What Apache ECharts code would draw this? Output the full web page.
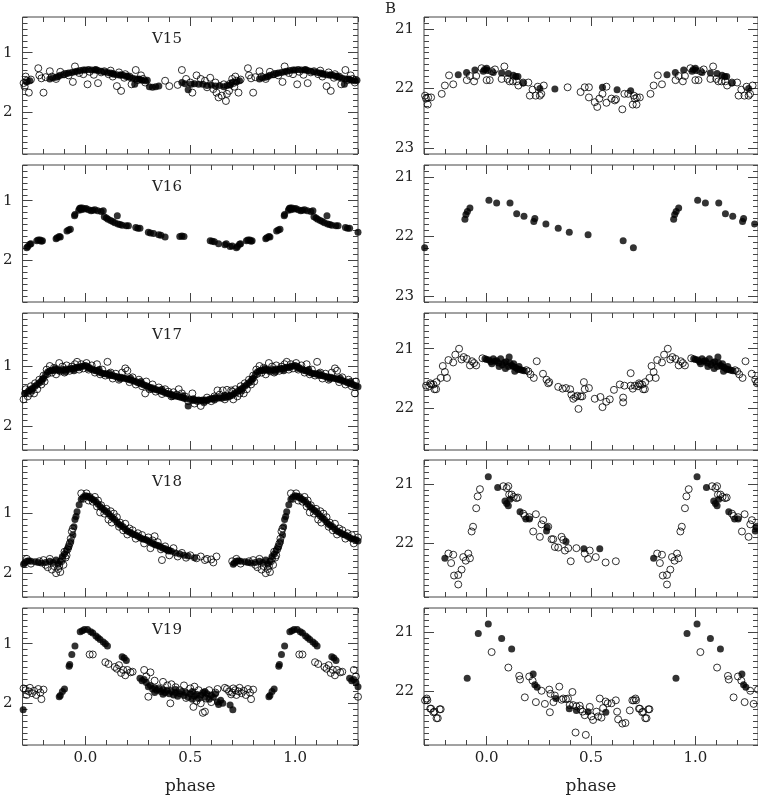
<!DOCTYPE html>
<html>
<head>
<meta charset="utf-8">
<script src="https://cdn.jsdelivr.net/npm/echarts@6/dist/echarts.min.js"></script>
<style>
  html, body { margin: 0; padding: 0; background: #fff; }
  #main { width: 758px; height: 796px; }
</style>
</head>
<body>
<div id="main"></div>
<script>
// light curves, phase in [0,1) -> plotted from -0.3 to 1.3 (folded)
const names = ['V15', 'V16', 'V17', 'V18', 'V19'];
const phaseTicks = [0, 0.5, 1.0];
const leftMagTicks = [1, 2];
const rightMagTicks = [21, 22, 23];

// left column (V-like band), filled and open points
const v15Fill = [[0.83,1.44],[0.845,1.42],[0.86,1.41],[0.87,1.40],[0.88,1.38],[0.895,1.37],[0.91,1.35],[0.92,1.34],[0.935,1.33],[0.95,1.32],[0.96,1.31],[0.975,1.30],[0.99,1.29],[0.0,1.29],[0.015,1.28],[0.03,1.29],[0.045,1.29],[0.05,1.28],[0.06,1.30],[0.075,1.31],[0.09,1.32],[0.105,1.33],[0.12,1.34],[0.13,1.35],[0.135,1.36],[0.15,1.37],[0.165,1.38],[0.17,1.37],[0.18,1.38],[0.195,1.40],[0.2,1.39],[0.21,1.41],[0.225,1.43],[0.235,1.53],[0.24,1.44],[0.255,1.44],[0.26,1.45],[0.27,1.46],[0.285,1.47],[0.295,1.46],[0.305,1.57],[0.32,1.58],[0.335,1.57],[0.35,1.56],[0.46,1.50],[0.475,1.52],[0.49,1.62],[0.505,1.53],[0.52,1.52],[0.54,1.53],[0.56,1.53],[0.58,1.55],[0.60,1.54],[0.62,1.56],[0.64,1.55],[0.66,1.57],[0.675,1.55],[0.69,1.54],[0.70,1.50],[0.72,1.49],[0.735,1.47]];
const v15Open = [[0.70,1.44],[0.705,1.51],[0.71,1.57],[0.715,1.40],[0.72,1.47],[0.73,1.67],[0.74,1.45],[0.775,1.26],[0.78,1.38],[0.79,1.43],[0.80,1.67],[0.81,1.41],[0.83,1.31],[0.84,1.40],[0.86,1.44],[0.88,1.32],[0.90,1.36],[0.92,1.38],[0.94,1.49],[0.95,1.23],[0.97,1.34],[0.99,1.36],[0.01,1.53],[0.02,1.32],[0.04,1.37],[0.06,1.51],[0.075,1.33],[0.09,1.31],[0.11,1.36],[0.12,1.30],[0.13,1.40],[0.15,1.56],[0.16,1.33],[0.17,1.64],[0.185,1.42],[0.19,1.36],[0.21,1.40],[0.22,1.53],[0.24,1.29],[0.25,1.46],[0.265,1.38],[0.275,1.44],[0.285,1.50],[0.38,1.47],[0.40,1.56],[0.44,1.54],[0.46,1.29],[0.48,1.44],[0.50,1.50],[0.51,1.67],[0.53,1.38],[0.55,1.44],[0.57,1.47],[0.58,1.58],[0.595,1.42],[0.61,1.61],[0.62,1.50],[0.625,1.67],[0.635,1.75],[0.65,1.72],[0.66,1.53],[0.67,1.81],[0.675,1.69],[0.685,1.64],[0.69,1.52]];
const v16Fill = [[0.72,1.79],[0.725,1.77],[0.735,1.73],[0.74,1.72],[0.768,1.67],[0.775,1.66],[0.784,1.66],[0.79,1.68],[0.795,1.67],[0.86,1.64],[0.865,1.62],[0.875,1.60],[0.88,1.61],[0.912,1.51],[0.92,1.49],[0.928,1.48],[0.948,1.25],[0.95,1.23],[0.968,1.16],[0.972,1.13],[0.976,1.12],[0.98,1.15],[0.985,1.12],[0.995,1.14],[0.003,1.13],[0.015,1.15],[0.027,1.17],[0.035,1.16],[0.045,1.15],[0.058,1.17],[0.075,1.18],[0.085,1.17],[0.09,1.27],[0.1,1.29],[0.108,1.31],[0.12,1.33],[0.13,1.35],[0.14,1.37],[0.152,1.25],[0.155,1.39],[0.165,1.40],[0.175,1.41],[0.195,1.42],[0.205,1.42],[0.24,1.45],[0.25,1.46],[0.26,1.46],[0.30,1.53],[0.31,1.54],[0.325,1.55],[0.35,1.57],[0.36,1.58],[0.38,1.61],[0.45,1.60],[0.46,1.59],[0.47,1.60],[0.595,1.67],[0.605,1.68],[0.615,1.69],[0.635,1.72],[0.665,1.74],[0.672,1.72],[0.69,1.77],[0.70,1.76]];
const v16Open = [];
const v17Fill = [[0.70,1.48],[0.71,1.45],[0.72,1.44],[0.73,1.40],[0.74,1.38],[0.75,1.36],[0.76,1.33],[0.77,1.30],[0.78,1.27],[0.79,1.24],[0.80,1.20],[0.81,1.14],[0.82,1.09],[0.83,1.07],[0.84,1.06],[0.85,1.07],[0.86,1.05],[0.87,1.06],[0.88,1.07],[0.89,1.05],[0.90,1.06],[0.91,1.04],[0.92,1.05],[0.93,1.03],[0.94,1.04],[0.95,1.02],[0.96,1.01],[0.97,1.02],[0.98,1.00],[0.99,0.99],[0.0,0.98],[0.01,1.00],[0.02,1.02],[0.03,1.04],[0.04,1.06],[0.05,1.07],[0.06,1.08],[0.07,1.10],[0.08,1.11],[0.09,1.12],[0.10,1.12],[0.11,1.14],[0.12,1.15],[0.13,1.15],[0.14,1.16],[0.15,1.17],[0.16,1.18],[0.17,1.18],[0.18,1.19],[0.19,1.20],[0.20,1.21],[0.21,1.22],[0.22,1.23],[0.23,1.24],[0.24,1.25],[0.25,1.27],[0.26,1.28],[0.27,1.29],[0.28,1.31],[0.29,1.32],[0.30,1.34],[0.31,1.35],[0.32,1.36],[0.33,1.38],[0.34,1.39],[0.35,1.40],[0.36,1.41],[0.37,1.42],[0.38,1.44],[0.39,1.45],[0.40,1.46],[0.41,1.47],[0.42,1.48],[0.43,1.49],[0.44,1.50],[0.45,1.51],[0.46,1.52],[0.47,1.53],[0.48,1.54],[0.49,1.66],[0.50,1.55],[0.51,1.57],[0.52,1.56],[0.53,1.57],[0.54,1.56],[0.55,1.57],[0.56,1.56],[0.57,1.56],[0.58,1.57],[0.59,1.55],[0.60,1.54],[0.61,1.53],[0.62,1.52],[0.63,1.53],[0.64,1.52],[0.65,1.53],[0.66,1.51],[0.67,1.52],[0.68,1.50],[0.69,1.49],[0.855,1.03],[0.905,1.09],[0.945,1.07],[0.015,1.03],[0.065,1.05],[0.115,1.11],[0.165,1.21],[0.215,1.19],[0.265,1.25],[0.315,1.38],[0.365,1.38],[0.415,1.50],[0.465,1.49],[0.515,1.54],[0.565,1.59],[0.615,1.56],[0.665,1.48],[0.745,1.41],[0.795,1.21]];
const v17Open = [[0.70,1.42],[0.705,1.55],[0.715,1.38],[0.725,1.50],[0.735,1.45],[0.74,1.33],[0.755,1.45],[0.76,1.28],[0.77,1.38],[0.78,1.22],[0.79,1.30],[0.80,1.15],[0.805,1.25],[0.815,1.05],[0.82,1.12],[0.83,0.99],[0.84,1.10],[0.85,1.02],[0.86,1.13],[0.875,0.94],[0.88,1.08],[0.89,1.00],[0.90,1.10],[0.91,0.98],[0.925,1.07],[0.935,1.00],[0.95,0.96],[0.96,0.92],[0.97,1.05],[0.98,0.96],[0.99,1.03],[0.005,0.94],[0.015,1.05],[0.03,0.98],[0.045,1.10],[0.055,0.96],[0.07,1.13],[0.08,1.05],[0.095,1.15],[0.105,0.92],[0.12,1.10],[0.13,1.20],[0.145,1.12],[0.16,1.22],[0.175,1.10],[0.19,1.03],[0.2,1.07],[0.21,1.26],[0.225,1.18],[0.24,1.30],[0.255,1.22],[0.27,1.33],[0.285,1.45],[0.29,1.25],[0.305,1.38],[0.32,1.30],[0.335,1.42],[0.35,1.35],[0.365,1.46],[0.38,1.38],[0.395,1.42],[0.41,1.50],[0.42,1.43],[0.435,1.47],[0.445,1.38],[0.46,1.45],[0.475,1.50],[0.49,1.58],[0.51,1.45],[0.52,1.62],[0.535,1.58],[0.55,1.66],[0.565,1.60],[0.58,1.52],[0.60,1.58],[0.615,1.50],[0.63,1.40],[0.64,1.47],[0.655,1.40],[0.665,1.55],[0.675,1.39],[0.685,1.50],[0.695,1.40]];
const v18Fill = [[0.705,1.85],[0.71,1.83],[0.72,1.80],[0.73,1.79],[0.74,1.80],[0.76,1.81],[0.775,1.82],[0.79,1.83],[0.81,1.82],[0.83,1.80],[0.845,1.82],[0.86,1.78],[0.87,1.85],[0.88,1.80],[0.89,1.72],[0.90,1.68],[0.91,1.62],[0.92,1.56],[0.93,1.47],[0.94,1.36],[0.945,1.22],[0.95,1.10],[0.955,1.05],[0.96,0.97],[0.97,0.85],[0.98,0.76],[0.99,0.72],[0.0,0.70],[0.01,0.71],[0.02,0.73],[0.03,0.75],[0.04,0.77],[0.05,0.80],[0.06,0.84],[0.07,0.88],[0.08,0.91],[0.09,0.94],[0.10,0.97],[0.11,1.00],[0.12,1.04],[0.13,1.07],[0.14,1.10],[0.15,1.14],[0.16,1.18],[0.17,1.20],[0.18,1.22],[0.19,1.26],[0.20,1.29],[0.21,1.31],[0.22,1.33],[0.23,1.35],[0.24,1.36],[0.25,1.38],[0.26,1.40],[0.27,1.42],[0.28,1.43],[0.29,1.44],[0.30,1.46],[0.31,1.48],[0.32,1.50],[0.33,1.52],[0.34,1.53],[0.35,1.54],[0.36,1.56],[0.37,1.58],[0.38,1.59],[0.39,1.61],[0.40,1.62],[0.41,1.63],[0.43,1.66],[0.45,1.68],[0.47,1.70],[0.49,1.71],[0.52,1.74]];
const v18Open = [[0.70,1.80],[0.72,1.76],[0.74,1.84],[0.78,1.80],[0.80,1.78],[0.81,1.86],[0.82,1.90],[0.83,1.76],[0.84,1.94],[0.85,1.88],[0.86,2.00],[0.87,1.93],[0.875,1.88],[0.88,1.98],[0.885,1.80],[0.89,1.76],[0.895,1.86],[0.90,1.64],[0.905,1.74],[0.91,1.70],[0.915,1.60],[0.92,1.55],[0.925,1.50],[0.93,1.42],[0.935,1.30],[0.94,1.25],[0.98,0.66],[0.99,0.75],[0.005,0.66],[0.015,0.78],[0.02,0.72],[0.035,0.80],[0.045,0.72],[0.055,0.88],[0.06,0.78],[0.07,0.98],[0.075,0.86],[0.09,1.00],[0.1,0.92],[0.11,1.10],[0.12,0.96],[0.125,1.15],[0.135,1.00],[0.15,1.06],[0.16,1.22],[0.165,1.15],[0.18,1.28],[0.19,1.17],[0.2,1.35],[0.21,1.25],[0.225,1.28],[0.24,1.42],[0.25,1.33],[0.27,1.36],[0.28,1.50],[0.30,1.40],[0.31,1.58],[0.32,1.45],[0.33,1.38],[0.345,1.48],[0.36,1.60],[0.365,1.78],[0.38,1.55],[0.395,1.62],[0.40,1.70],[0.42,1.58],[0.44,1.72],[0.46,1.66],[0.48,1.74],[0.50,1.70],[0.53,1.75],[0.55,1.72],[0.57,1.78],[0.58,1.76],[0.60,1.77],[0.61,1.82],[0.625,1.72]];
const v19Fill = [[0.703,2.11],[0.875,1.89],[0.88,1.87],[0.89,1.80],[0.90,1.76],[0.922,1.38],[0.925,1.35],[0.935,1.18],[0.95,1.04],[0.975,0.80],[0.985,0.78],[0.995,0.76],[0.01,0.76],[0.025,0.80],[0.035,0.82],[0.05,0.87],[0.06,0.90],[0.07,0.93],[0.085,0.97],[0.095,1.00],[0.105,1.04],[0.175,1.22],[0.185,1.24],[0.195,1.28],[0.26,1.58],[0.27,1.62],[0.28,1.60],[0.29,1.65],[0.30,1.72],[0.31,1.70],[0.32,1.76],[0.33,1.74],[0.34,1.78],[0.35,1.76],[0.36,1.80],[0.37,1.77],[0.38,1.82],[0.39,1.78],[0.40,1.84],[0.41,1.80],[0.42,1.86],[0.43,1.82],[0.44,1.88],[0.45,1.84],[0.46,1.80],[0.47,1.87],[0.48,1.82],[0.49,1.90],[0.50,1.84],[0.51,1.80],[0.52,1.88],[0.53,1.85],[0.54,1.92],[0.55,1.86],[0.56,1.82],[0.57,1.90],[0.58,1.84],[0.59,1.93],[0.60,1.86],[0.61,1.90],[0.62,1.84],[0.63,1.98],[0.635,2.02],[0.645,1.95],[0.655,2.00],[0.69,2.03],[0.33,1.82],[0.37,1.85],[0.43,1.77],[0.51,1.93],[0.57,1.80]];
const v19Open = [[0.70,1.82],[0.705,1.75],[0.715,1.78],[0.72,1.86],[0.73,1.80],[0.735,1.74],[0.745,1.83],[0.755,1.79],[0.765,1.86],[0.775,1.76],[0.785,1.82],[0.79,1.93],[0.80,1.77],[0.02,1.18],[0.035,1.18],[0.095,1.31],[0.11,1.34],[0.14,1.39],[0.15,1.42],[0.16,1.36],[0.17,1.49],[0.18,1.44],[0.19,1.53],[0.20,1.44],[0.215,1.48],[0.225,1.47],[0.28,1.44],[0.29,1.55],[0.30,1.89],[0.31,1.48],[0.33,1.62],[0.35,1.75],[0.37,1.64],[0.39,1.70],[0.405,2.00],[0.41,1.68],[0.43,1.73],[0.45,1.78],[0.47,1.70],[0.48,1.91],[0.50,1.75],[0.515,2.06],[0.52,1.72],[0.53,1.96],[0.54,1.78],[0.55,2.00],[0.56,2.16],[0.57,2.14],[0.575,1.92],[0.59,1.78],[0.60,1.98],[0.62,1.82],[0.63,1.76],[0.665,1.74],[0.675,1.76],[0.685,1.80],[0.695,1.85]];

// right column (B magnitudes)
const b15Fill = [[0.864,21.77],[0.904,21.73],[0.944,21.69],[0.984,21.71],[0.99,21.68],[0.0,21.66],[0.005,21.70],[0.032,21.73],[0.072,21.74],[0.104,21.75],[0.128,21.78],[0.14,21.80],[0.15,21.80],[0.175,21.91],[0.255,22.00],[0.327,22.01],[0.555,21.98],[0.625,22.02],[0.69,22.04]];
const b15Open = [[0.70,22.27],[0.705,22.12],[0.72,22.15],[0.785,22.09],[0.80,21.95],[0.82,21.78],[0.84,21.93],[0.905,21.86],[0.92,21.79],[0.94,21.88],[0.95,21.79],[0.976,21.66],[0.0,21.86],[0.015,21.86],[0.024,21.71],[0.04,21.68],[0.072,21.84],[0.085,21.63],[0.10,21.84],[0.11,21.88],[0.125,21.88],[0.144,21.88],[0.152,21.95],[0.175,21.90],[0.2,21.90],[0.207,22.12],[0.22,22.02],[0.235,22.12],[0.245,21.97],[0.255,22.12],[0.262,22.09],[0.274,21.95],[0.388,21.98],[0.45,22.06],[0.47,21.98],[0.49,21.98],[0.49,22.15],[0.518,22.23],[0.53,22.31],[0.54,22.17],[0.555,22.09],[0.574,21.97],[0.574,22.24],[0.598,22.17],[0.614,22.20],[0.62,22.18],[0.65,22.35],[0.66,22.09],[0.678,22.09],[0.71,22.17],[0.718,22.27],[0.734,22.15]];
const b16Fill = [[0.703,22.19],[0.896,21.71],[0.901,21.63],[0.908,21.58],[0.92,21.52],[0.011,21.39],[0.048,21.44],[0.112,21.44],[0.144,21.62],[0.179,21.66],[0.226,21.75],[0.231,21.70],[0.284,21.79],[0.343,21.86],[0.396,21.93],[0.486,21.97],[0.654,22.07]];
const b16Open = [];
const b17Fill = [[0.992,21.17],[0.0,21.18],[0.012,21.19],[0.02,21.22],[0.025,21.25],[0.032,21.17],[0.04,21.21],[0.048,21.20],[0.056,21.24],[0.06,21.30],[0.067,21.17],[0.075,21.27],[0.085,21.23],[0.09,21.33],[0.093,21.22],[0.105,21.30],[0.108,21.14],[0.112,21.24],[0.12,21.28],[0.128,21.30],[0.13,21.25],[0.135,21.38],[0.14,21.32],[0.15,21.35],[0.155,21.30],[0.16,21.35],[0.17,21.36],[0.18,21.37]];
const b17Open = [[0.70,21.67],[0.71,21.62],[0.73,21.58],[0.75,21.68],[0.76,21.56],[0.78,21.49],[0.79,21.29],[0.80,21.39],[0.81,21.49],[0.817,21.19],[0.84,21.23],[0.85,21.10],[0.868,21.0],[0.88,21.18],[0.89,21.14],[0.905,21.17],[0.92,21.28],[0.93,21.21],[0.94,21.24],[0.95,21.28],[0.98,21.16],[0.19,21.36],[0.2,21.38],[0.21,21.43],[0.226,21.49],[0.24,21.21],[0.27,21.42],[0.287,21.52],[0.295,21.58],[0.30,21.56],[0.343,21.64],[0.364,21.67],[0.38,21.66],[0.40,21.68],[0.406,21.77],[0.415,21.84],[0.425,21.81],[0.435,21.79],[0.44,22.01],[0.45,21.80],[0.458,21.80],[0.466,21.56],[0.47,21.68],[0.49,21.66],[0.518,21.84],[0.545,21.81],[0.555,21.98],[0.573,21.89],[0.59,21.85],[0.61,21.69],[0.638,21.60],[0.654,21.82],[0.654,21.90],[0.66,21.62],[0.69,21.41],[0.69,21.62],[0.725,21.63],[0.735,21.60],[0.745,21.60],[0.758,21.68]];
const b18Fill = [[0.80,22.25],[0.008,20.88],[0.053,21.06],[0.088,21.29],[0.096,21.33],[0.104,21.37],[0.112,21.26],[0.16,21.47],[0.188,21.59],[0.205,21.59],[0.287,21.79],[0.29,21.73],[0.38,21.97],[0.466,22.09],[0.542,22.09]];
const b18Open = [[0.817,22.17],[0.83,22.33],[0.84,22.19],[0.844,22.54],[0.864,22.53],[0.864,22.69],[0.88,22.44],[0.888,22.23],[0.90,22.29],[0.912,22.17],[0.92,22.25],[0.928,21.80],[0.935,21.72],[0.95,21.41],[0.957,21.21],[0.968,21.09],[0.08,21.04],[0.096,21.07],[0.104,21.04],[0.108,21.18],[0.12,21.18],[0.13,21.22],[0.142,21.24],[0.15,21.23],[0.175,21.50],[0.183,21.54],[0.205,21.56],[0.223,21.80],[0.236,21.51],[0.255,21.89],[0.263,21.68],[0.271,21.61],[0.295,21.72],[0.311,21.93],[0.319,21.93],[0.327,22.06],[0.343,22.07],[0.359,21.89],[0.367,21.94],[0.375,22.12],[0.391,22.08],[0.403,22.30],[0.43,22.08],[0.47,22.17],[0.486,22.26],[0.494,22.12],[0.523,22.23],[0.57,22.32],[0.619,22.30]];
const b19Fill = [[0.907,21.78],[0.96,21.03],[0.008,20.87],[0.072,21.11],[0.12,21.29],[0.223,21.71],[0.231,21.89],[0.242,21.93],[0.332,22.12],[0.396,22.29],[0.43,22.32],[0.486,22.34],[0.571,22.35]];
const b19Open = [[0.705,22.15],[0.713,22.12],[0.73,22.29],[0.745,22.35],[0.76,22.45],[0.775,22.30],[0.024,21.34],[0.104,21.60],[0.156,21.74],[0.16,21.80],[0.183,22.10],[0.204,21.75],[0.22,21.82],[0.236,22.18],[0.263,21.99],[0.279,22.21],[0.30,21.97],[0.303,22.35],[0.306,22.04],[0.32,22.18],[0.327,22.07],[0.348,21.92],[0.359,22.14],[0.367,22.12],[0.38,22.13],[0.39,22.12],[0.398,22.23],[0.411,22.01],[0.414,22.23],[0.426,22.69],[0.43,22.25],[0.446,22.24],[0.45,22.30],[0.46,22.34],[0.475,22.73],[0.47,22.40],[0.494,22.26],[0.502,22.42],[0.51,22.48],[0.526,22.34],[0.534,22.42],[0.542,22.12],[0.55,22.44],[0.558,22.28],[0.57,22.17],[0.58,22.20],[0.598,22.20],[0.619,22.15],[0.625,22.34],[0.63,22.47],[0.65,22.54],[0.665,22.53],[0.686,22.32],[0.698,22.15],[0.716,22.15],[0.734,22.29],[0.75,22.34],[0.766,22.45],[0.78,22.30]];

const leftFill = [v15Fill, v16Fill, v17Fill, v18Fill, v19Fill];
const leftOpen = [v15Open, v16Open, v17Open, v18Open, v19Open];
const rightFill = [b15Fill, b16Fill, b17Fill, b18Fill, b19Fill];
const rightOpen = [b15Open, b16Open, b17Open, b18Open, b19Open];

// layout
const rowTops = [17, 165, 313, 460, 608];
const rowH = 137;
const leftRange = [[0.4, 2.7], [0.4, 2.7], [0.1, 2.4], [0.1, 2.4], [0.4, 2.7]];
const rightRange = [[20.8, 23.1], [20.8, 23.1], [20.4, 22.7], [20.6, 22.9], [20.6, 22.9]];
const FONT = '"DejaVu Serif", "Liberation Serif", serif';
const INK = '#444';

function steps(a, b, s) {
    const out = [];
    for (let v = a; v <= b + 1e-9; v += s) out.push(Math.round(v * 100) / 100);
    return out;
}

// repeat each phase point one cycle either side, keep what's inside the axis
function fold(pts) {
    const out = [];
    pts.forEach(p => {
        [-1, 0, 1].forEach(k => {
            const x = p[0] + k;
            if (x >= -0.3 && x <= 1.3) out.push([x, p[1]]);
        });
    });
    return out;
}

const grids = [], xAxes = [], yAxes = [], series = [], graphics = [];

function tick(len, vals) {
    return { show: true, inside: true, length: len, customValues: vals, lineStyle: { color: INK, width: 1 } };
}

function addPanel(row, col) {
    const g = grids.length;
    const left = col ? 424 : 21;
    const width = col ? 336 : 337;
    grids.push({ left: left, top: rowTops[row], width: width, height: rowH, show: true, borderColor: INK, borderWidth: 1 });

    const yr = col ? rightRange[row] : leftRange[row];
    const majorY = (col ? rightMagTicks : leftMagTicks).filter(v => v >= yr[0] && v <= yr[1]);
    const minorY = steps(Math.ceil(yr[0] * 10) / 10, yr[1], 0.1);
    const minorX = steps(-0.3, 1.3, 0.1);
    const last = row === 4;

    const xb = { type: 'value', gridIndex: g, min: -0.3, max: 1.3, splitLine: { show: false },
        axisLine: { show: false, onZero: false }, axisLabel: { show: false } };
    const xi = xAxes.length;
    xAxes.push(Object.assign({}, xb, {
        position: 'bottom', axisTick: tick(9, phaseTicks),
        axisLabel: { show: last, customValues: phaseTicks, formatter: v => v.toFixed(1),
            fontFamily: FONT, fontSize: 15, color: '#222', margin: 6 },
        name: last ? 'phase' : '', nameLocation: 'middle', nameGap: 33,
        nameTextStyle: { fontFamily: FONT, fontSize: 17, color: '#222' }
    }));
    xAxes.push(Object.assign({}, xb, { position: 'bottom', axisTick: tick(5, minorX) }));
    xAxes.push(Object.assign({}, xb, { position: 'top', axisTick: tick(9, phaseTicks) }));
    xAxes.push(Object.assign({}, xb, { position: 'top', axisTick: tick(5, minorX) }));

    const yb = { type: 'value', gridIndex: g, min: yr[0], max: yr[1], inverse: true, splitLine: { show: false },
        axisLine: { show: false, onZero: false }, axisLabel: { show: false } };
    const yi = yAxes.length;
    yAxes.push(Object.assign({}, yb, {
        position: 'left', axisTick: tick(10, majorY),
        axisLabel: { show: true, customValues: majorY, formatter: v => String(v),
            fontFamily: FONT, fontSize: 15, color: '#222', margin: 10 }
    }));
    yAxes.push(Object.assign({}, yb, { position: 'left', axisTick: tick(5, minorY) }));
    yAxes.push(Object.assign({}, yb, { position: 'right', axisTick: tick(10, majorY) }));
    yAxes.push(Object.assign({}, yb, { position: 'right', axisTick: tick(5, minorY) }));

    const fill = col ? rightFill[row] : leftFill[row];
    const open = col ? rightOpen[row] : leftOpen[row];
    series.push({ type: 'scatter', xAxisIndex: xi, yAxisIndex: yi, data: fold(fill), symbol: 'circle',
        symbolSize: 7, itemStyle: { color: '#000' }, silent: true, animation: false });
    series.push({ type: 'scatter', xAxisIndex: xi, yAxisIndex: yi, data: fold(open), symbol: 'circle',
        symbolSize: 7, itemStyle: { color: 'rgba(0,0,0,0)', borderColor: '#000', borderWidth: 1 }, silent: true, animation: false });

    if (!col) {
        graphics.push({ type: 'text', x: 167, y: rowTops[row] + 22,
            style: { text: names[row], font: '15px ' + FONT, fill: '#222', align: 'center', verticalAlign: 'middle' } });
    }
}

for (let r = 0; r < 5; r++) { addPanel(r, 0); addPanel(r, 1); }

graphics.push({ type: 'text', x: 385, y: 9,
    style: { text: 'B', font: '15px ' + FONT, fill: '#222', align: 'left', verticalAlign: 'middle' } });

const chart = echarts.init(document.getElementById('main'), null, { renderer: 'canvas' });
chart.setOption({
    animation: false,
    backgroundColor: '#fff',
    grid: grids,
    xAxis: xAxes,
    yAxis: yAxes,
    series: series,
    graphic: graphics
});
</script>
</body>
</html>
